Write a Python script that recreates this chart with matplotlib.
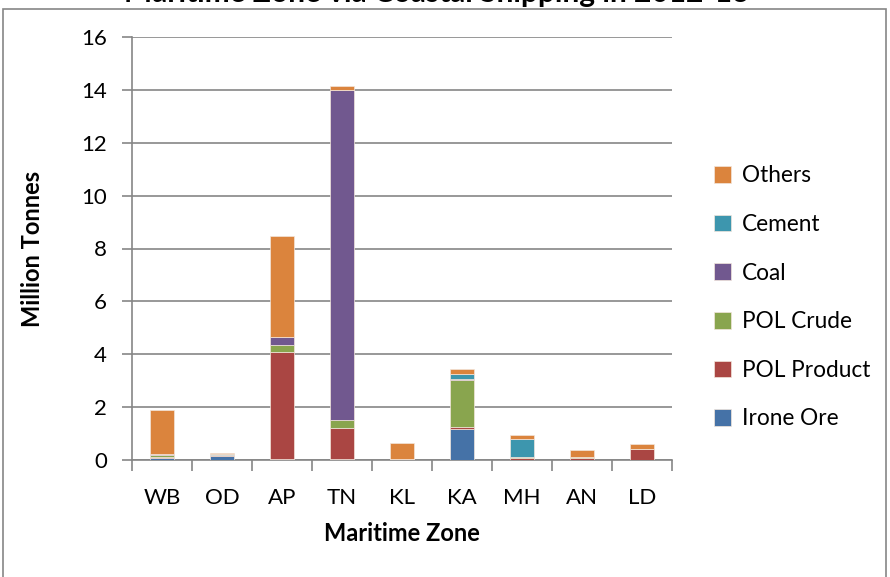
import numpy as np
import matplotlib.pyplot as plt
from matplotlib.patches import Rectangle

plt.rcParams['font.family'] = ['Lato', 'DejaVu Sans']

# data (million tonnes), stacked bottom -> top
zones = ["WB", "OD", "AP", "TN", "KL", "KA", "MH", "AN", "LD"]
iron_ore = [0.08, 0.17, 0.05, 0.02, 0.01, 1.19, 0.01, 0.00, 0.00]
pol_product = [0.02, 0.01, 4.05, 1.19, 0.01, 0.05, 0.08, 0.08, 0.43]
pol_crude = [0.10, 0.01, 0.25, 0.30, 0.00, 1.80, 0.04, 0.02, 0.00]
coal = [0.01, 0.00, 0.30, 12.49, 0.00, 0.01, 0.00, 0.03, 0.00]
cement = [0.01, 0.04, 0.00, 0.00, 0.00, 0.19, 0.66, 0.00, 0.00]
others = [1.67, 0.02, 3.82, 0.15, 0.61, 0.19, 0.16, 0.25, 0.16]

series = [("Irone Ore", iron_ore, "#4572A7"),
          ("POL Product", pol_product, "#AA4643"),
          ("POL Crude", pol_crude, "#89A54E"),
          ("Coal", coal, "#71588F"),
          ("Cement", cement, "#3D96AE"),
          ("Others", others, "#DB843D")]

fig = plt.figure(figsize=(8.9, 5.77), dpi=100)
ax = fig.add_axes([132/890, 1-460/577, 540/890, 423/577])

x = np.arange(len(zones))
bottom = np.zeros(len(zones))
handles = []
for name, vals, col in series:
    b = ax.bar(x, vals, 0.4, bottom=bottom, color=col, edgecolor="#f3e6dc",
               linewidth=0.5, label=name, zorder=3)
    handles.append(b)
    bottom += np.array(vals)

ax.set_xlim(-0.5, len(zones) - 0.5)
ax.set_ylim(0, 16)
ax.set_yticks(np.arange(0, 17, 2))
ax.set_xticks(x)
ax.set_xticklabels(zones)
ax.set_xticks(np.arange(-0.5, len(zones)), minor=True)
ax.tick_params(axis="x", which="major", length=0, pad=20, labelsize=16)
ax.tick_params(axis="x", which="minor", length=8, color="#868686", width=1.2)
ax.tick_params(axis="y", length=7, color="#868686", width=1.2, labelsize=16, pad=11)
ax.grid(axis="y", color="#868686", linewidth=1.2, zorder=0)
for s in ["top", "right"]:
    ax.spines[s].set_visible(False)
for s in ["left", "bottom"]:
    ax.spines[s].set_color("#868686")
    ax.spines[s].set_linewidth(1.2)

ax.set_xlabel("Maritime Zone", fontsize=17, fontweight="bold", labelpad=10)
ax.set_ylabel("Million Tonnes", fontsize=17, fontweight="bold", labelpad=27)

leg = fig.legend(handles[::-1], [s[0] for s in series[::-1]],
                 loc="upper left", bbox_to_anchor=(694/890, 1-145/577),
                 frameon=False, fontsize=16.3, handlelength=0.75, handleheight=0.75,
                 labelspacing=1.22, handletextpad=0.45)

fig.text(437/890, 1-2/577, "Maritime Zone via Coastal Shipping in 2012-13",
         ha="center", va="baseline", fontsize=21.5, fontweight="bold")

fig.patches.append(Rectangle((3/890, -0.1), 883/890, 1.1 - 9/577,
                             transform=fig.transFigure, fill=False,
                             edgecolor="#868686", linewidth=1.2))

fig.savefig("out.png", dpi=100)
